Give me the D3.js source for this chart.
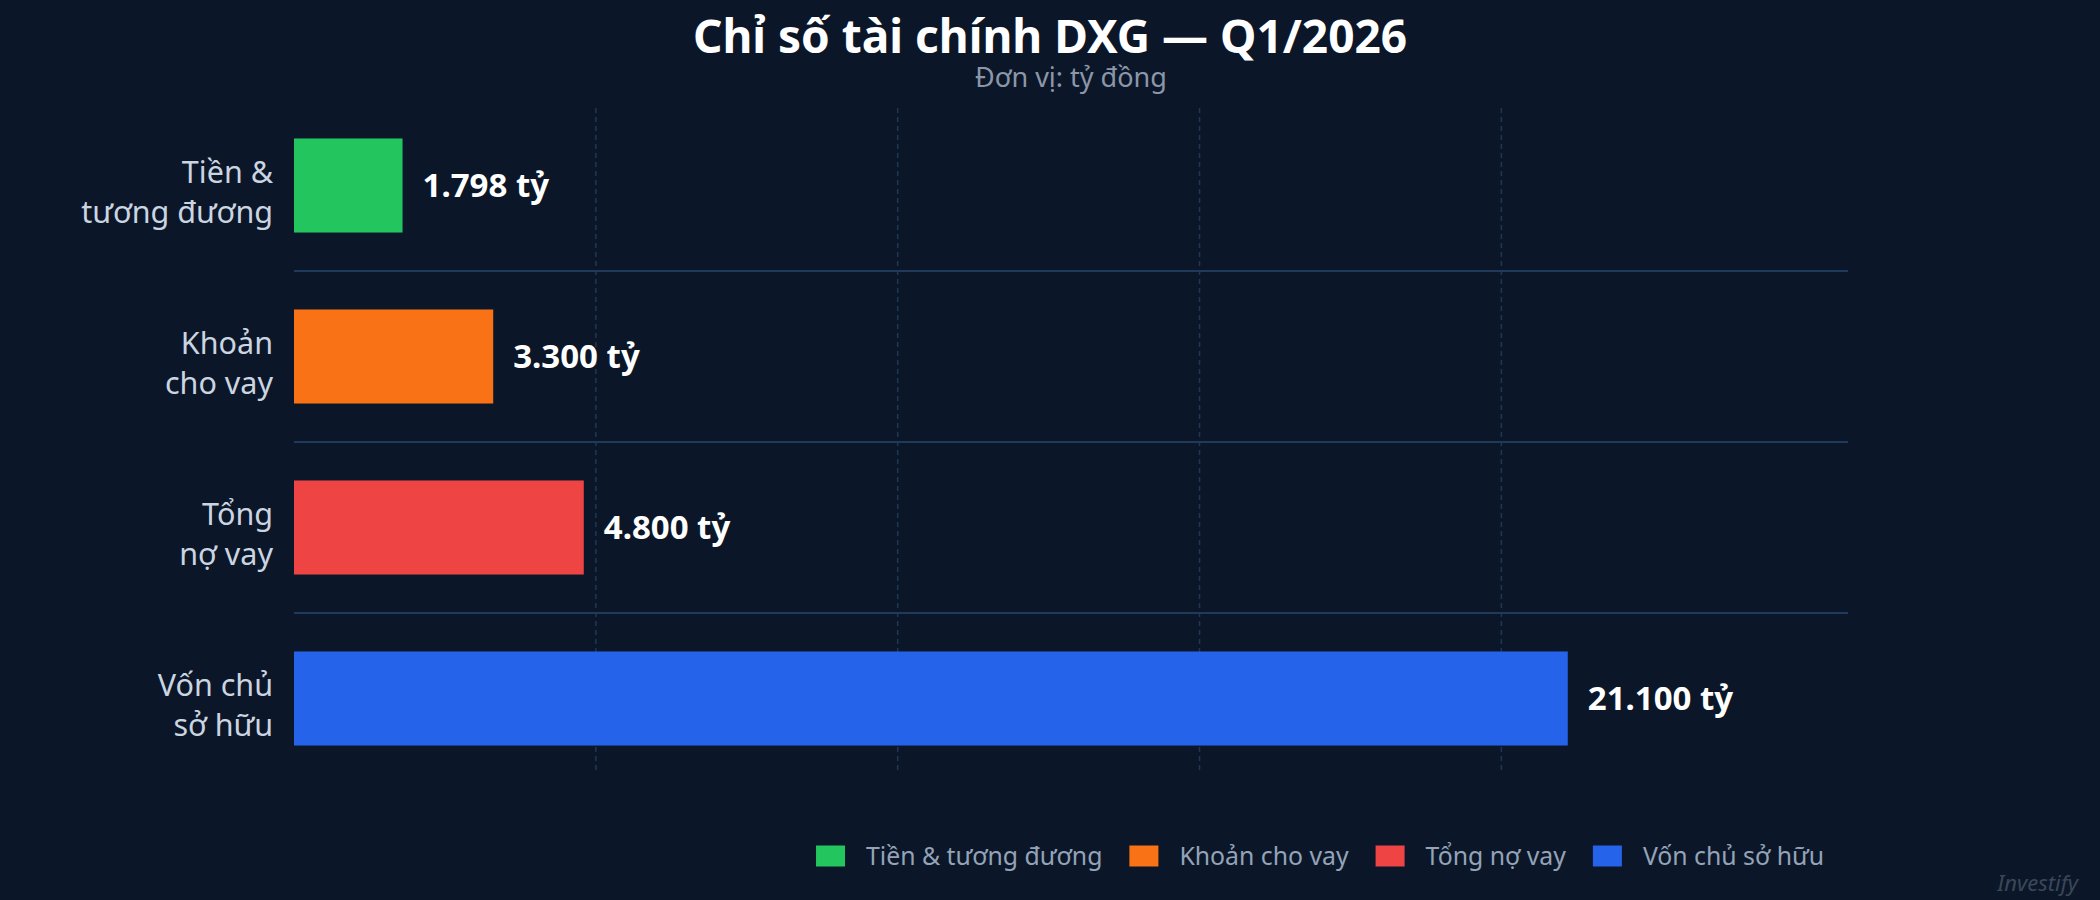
<!DOCTYPE html>
<html>
<head>
<meta charset="utf-8">
<script src="https://cdn.jsdelivr.net/npm/d3@7"></script>
<style>
  html, body { margin: 0; padding: 0; background: #0b1728; }
  svg { display: block; }
</style>
</head>
<body>
<svg id="chart" width="2100" height="900"></svg>
<script>
// ---- data ----
const categories = ["Tiền & tương đương", "Khoản cho vay", "Tổng nợ vay", "Vốn chủ sở hữu"];
const categoryLines = [["Tiền &", "tương đương"], ["Khoản", "cho vay"], ["Tổng", "nợ vay"], ["Vốn chủ", "sở hữu"]];
const values = [1798, 3300, 4800, 21100];
const colors = ["#22c55e", "#f97316", "#ef4444", "#2563eb"];
const gridTicks = [5000, 10000, 15000, 20000];
const titleText = "Chỉ số tài chính DXG — Q1/2026";
const subtitleText = "Đơn vị: tỷ đồng";
const unitSuffix = " tỷ";
const watermarkText = "Investify";

// ---- setup ----
const W = 2100, H = 900;
const FONT = "'Noto Sans', 'Open Sans', sans-serif";
const svg = d3.select("#chart");
svg.append("rect").attr("width", W).attr("height", H).attr("fill", "#0b1728");

const vn = d3.formatLocale({ decimal: ",", thousands: ".", grouping: [3], currency: ["", ""] });
const fmt = vn.format(",d");

const x = d3.scaleLinear().domain([0, d3.max(values) * 1.22]).range([294, 1848]);
const y = d3.scaleBand().domain(categories).range([100, 784]).paddingInner(0.45).paddingOuter(0.225);

// vertical dashed grid lines
svg.append("g").selectAll("line").data(gridTicks).join("line")
  .attr("x1", d => x(d)).attr("x2", d => x(d))
  .attr("y1", 108).attr("y2", 773)
  .attr("stroke", "#1f3656").attr("stroke-width", 1.5)
  .attr("stroke-dasharray", "5,4");

// horizontal separators between categories
const step = y.step();
svg.append("g").selectAll("line").data(categories.slice(0, -1)).join("line")
  .attr("x1", x(0)).attr("x2", x.range()[1])
  .attr("y1", d => y(d) + y.bandwidth() + (step - y.bandwidth()) / 2)
  .attr("y2", d => y(d) + y.bandwidth() + (step - y.bandwidth()) / 2)
  .attr("stroke", "#1f3a5c").attr("stroke-width", 2);

// bars
svg.append("g").selectAll("rect").data(categories).join("rect")
  .attr("x", x(0))
  .attr("y", d => y(d))
  .attr("width", (d, i) => x(values[i]) - x(0))
  .attr("height", y.bandwidth())
  .attr("fill", (d, i) => colors[i]);

// value labels
svg.append("g").selectAll("text").data(categories).join("text")
  .attr("x", (d, i) => x(values[i]) + 20)
  .attr("y", d => y(d) + y.bandwidth() / 2 + 11)
  .attr("fill", "#ffffff")
  .attr("font-family", FONT).attr("font-weight", 700).attr("font-size", 33)
  .text((d, i) => fmt(values[i]) + unitSuffix);

// category labels (two lines each)
const labG = svg.append("g");
categories.forEach((c, i) => {
  categoryLines[i].forEach((ln, j) => {
    labG.append("text")
      .attr("x", 273)
      .attr("y", y(c) + y.bandwidth() / 2 - 3 + j * 40)
      .attr("text-anchor", "end")
      .attr("fill", "#cbd5e1")
      .attr("font-family", FONT).attr("font-size", 30.5)
      .text(ln);
  });
});

// title & subtitle
svg.append("text").attr("x", W / 2).attr("y", 53).attr("text-anchor", "middle")
  .attr("fill", "#ffffff").attr("font-family", FONT).attr("font-weight", 700).attr("font-size", 46)
  .text(titleText);
const plotCenter = (x.range()[0] + x.range()[1]) / 2;
svg.append("text").attr("x", plotCenter).attr("y", 87).attr("text-anchor", "middle")
  .attr("fill", "#8b97a8").attr("font-family", FONT).attr("font-size", 27)
  .text(subtitleText);

// legend (right-aligned ending near 1824)
const legend = svg.append("g");
const legY = 856;
const items = legend.selectAll("g").data(categories).join("g");
items.append("rect").attr("width", 29).attr("height", 21).attr("y", legY - 10.5)
  .attr("fill", (d, i) => colors[i]);
items.append("text").attr("x", 50).attr("y", legY + 9)
  .attr("fill", "#94a3b8").attr("font-family", FONT).attr("font-size", 24.8)
  .text(d => d);
let widths = [];
items.each(function () {
  widths.push(50 + d3.select(this).select("text").node().getComputedTextLength());
});
const gap = 27;
const total = d3.sum(widths) + gap * (widths.length - 1);
let cx = 1824 - total;
items.each(function (d, i) {
  d3.select(this).attr("transform", `translate(${cx},0)`);
  cx += widths[i] + gap;
});

// watermark
svg.append("text").attr("x", 2078).attr("y", 891).attr("text-anchor", "end")
  .attr("fill", "#3a475a").attr("font-family", FONT).attr("font-style", "italic").attr("font-size", 22)
  .text(watermarkText);
</script>
</body>
</html>
